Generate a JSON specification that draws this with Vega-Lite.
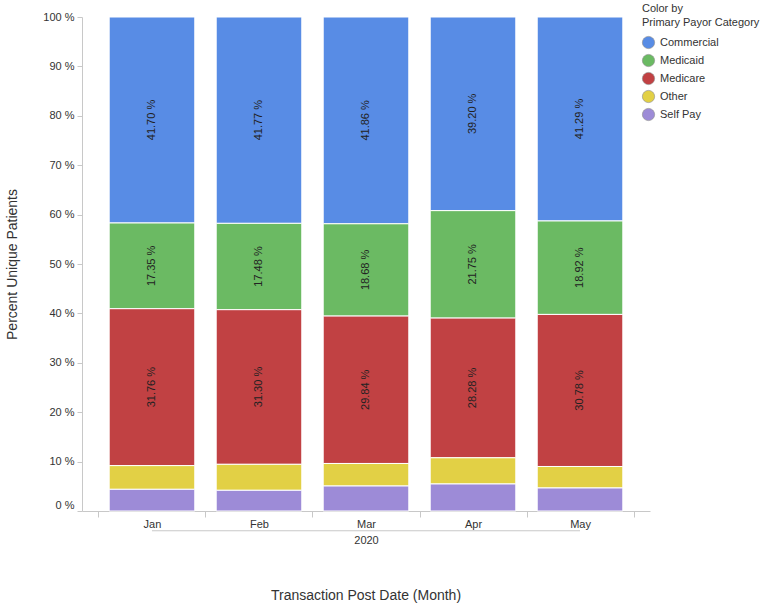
{
  "$schema": "https://vega.github.io/schema/vega-lite/v6.json",
  "width": 568,
  "height": 494,
  "autosize": "none",
  "padding": {"left": 82, "top": 17, "right": 132, "bottom": 92},
  "config": {"view": {"stroke": null}, "font": "Liberation Sans"},
  "title": {"text": "Transaction Post Date (Month)", "orient": "bottom", "fontSize": 14, "fontWeight": "normal", "color": "#333333", "offset": 44, "anchor": "middle", "font": "Liberation Sans"},
  "datasets": {
    "bars": [
      {"month": "Jan", "category": "Commercial", "pct": 41.70},
      {"month": "Jan", "category": "Medicaid", "pct": 17.35},
      {"month": "Jan", "category": "Medicare", "pct": 31.76},
      {"month": "Jan", "category": "Other", "pct": 4.80},
      {"month": "Jan", "category": "Self Pay", "pct": 4.39},
      {"month": "Feb", "category": "Commercial", "pct": 41.77},
      {"month": "Feb", "category": "Medicaid", "pct": 17.48},
      {"month": "Feb", "category": "Medicare", "pct": 31.30},
      {"month": "Feb", "category": "Other", "pct": 5.26},
      {"month": "Feb", "category": "Self Pay", "pct": 4.19},
      {"month": "Mar", "category": "Commercial", "pct": 41.86},
      {"month": "Mar", "category": "Medicaid", "pct": 18.68},
      {"month": "Mar", "category": "Medicare", "pct": 29.84},
      {"month": "Mar", "category": "Other", "pct": 4.56},
      {"month": "Mar", "category": "Self Pay", "pct": 5.06},
      {"month": "Apr", "category": "Commercial", "pct": 39.20},
      {"month": "Apr", "category": "Medicaid", "pct": 21.75},
      {"month": "Apr", "category": "Medicare", "pct": 28.28},
      {"month": "Apr", "category": "Other", "pct": 5.30},
      {"month": "Apr", "category": "Self Pay", "pct": 5.47},
      {"month": "May", "category": "Commercial", "pct": 41.29},
      {"month": "May", "category": "Medicaid", "pct": 18.92},
      {"month": "May", "category": "Medicare", "pct": 30.78},
      {"month": "May", "category": "Other", "pct": 4.35},
      {"month": "May", "category": "Self Pay", "pct": 4.66}
    ],
    "bracket": [{"from": "Jan", "to": "May", "level": -4.0}]
  },
  "layer": [
    {
      "data": {"name": "bars"},
      "mark": {"type": "bar", "stroke": "white", "strokeWidth": 1, "width": {"band": 0.8}},
      "encoding": {
        "x": {
          "field": "month", "type": "nominal", "title": "2020", "sort": null,
          "scale": {"domain": ["Jan", "Feb", "Mar", "Apr", "May"], "paddingInner": 0, "paddingOuter": 0.154},
          "axis": {"tickBand": "extent", "labelAngle": 0, "domainColor": "#c8c8c8", "tickColor": "#c8c8c8", "tickSize": 6, "labelFontSize": 11, "labelColor": "#333333", "labelPadding": 1, "titleFontSize": 11, "titleFontWeight": "normal", "titleColor": "#333333", "titlePadding": 5}
        },
        "y": {
          "field": "pct", "type": "quantitative", "stack": "zero", "title": "Percent Unique Patients",
          "scale": {"domain": [0, 100], "nice": false},
          "axis": {"values": [0, 10, 20, 30, 40, 50, 60, 70, 80, 90, 100], "labelExpr": "datum.value + ' %'", "grid": false, "domainColor": "#c8c8c8", "tickColor": "#c8c8c8", "tickSize": 5, "labelFontSize": 11, "labelColor": "#333333", "labelPadding": 3, "labelOffset": {"expr": "datum.value == 0 ? -6 : 0"}, "titleFontSize": 14, "titleFontWeight": "normal", "titleColor": "#333333", "titlePadding": 23}
        },
        "color": {
          "field": "category", "type": "nominal",
          "scale": {"domain": ["Commercial", "Medicaid", "Medicare", "Other", "Self Pay"], "range": ["#588ce5", "#6bba63", "#c14143", "#e2d045", "#9d8bd7"]},
          "legend": {"orient": "none", "legendX": 560, "legendY": -14, "title": ["Color by", "Primary Payor Category"], "titleFontSize": 11, "titleFontWeight": "normal", "titleColor": "#333333", "titleLineHeight": 14, "titlePadding": 8, "labelFontSize": 11, "labelColor": "#333333", "symbolType": "circle", "symbolSize": 150, "symbolStrokeColor": "#888888", "symbolStrokeWidth": 0.6, "symbolOpacity": 1, "rowPadding": 3, "labelOffset": 5}
        },
        "order": {"field": "category", "sort": "descending"}
      }
    },
    {
      "data": {"name": "bars"},
      "transform": [
        {"stack": "pct", "groupby": ["month"], "sort": [{"field": "category", "order": "descending"}], "as": ["y0", "y1"]},
        {"filter": "datum.category != 'Other' && datum.category != 'Self Pay'"},
        {"calculate": "(datum.y0 + datum.y1) / 2", "as": "mid"},
        {"calculate": "format(datum.pct, '.2f') + ' %'", "as": "label"}
      ],
      "mark": {"type": "text", "angle": 270, "fontSize": 11, "color": "#222222", "align": "center", "baseline": "middle"},
      "encoding": {
        "x": {"field": "month", "type": "nominal", "title": "2020", "sort": null},
        "y": {"field": "mid", "type": "quantitative", "title": "Percent Unique Patients"},
        "text": {"field": "label"}
      }
    },
    {
      "data": {"name": "bracket"},
      "mark": {"type": "rule", "color": "#c8c8c8", "strokeWidth": 1},
      "encoding": {
        "x": {"field": "from", "type": "nominal", "title": "2020", "sort": null},
        "x2": {"field": "to"},
        "y": {"field": "level", "type": "quantitative", "title": "Percent Unique Patients"}
      }
    }
  ]
}
